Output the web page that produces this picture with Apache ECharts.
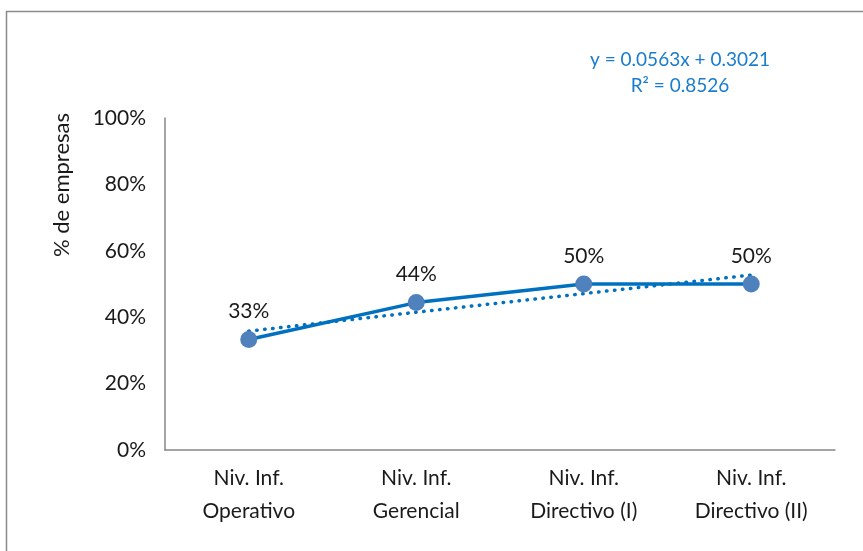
<!DOCTYPE html>
<html>
<head>
<meta charset="utf-8">
<script src="https://cdn.jsdelivr.net/npm/echarts@6/dist/echarts.min.js"></script>
<style>
  html, body { margin: 0; padding: 0; background: #fff; }
  #chart { width: 863px; height: 551px; }
</style>
</head>
<body>
<div id="chart"></div>
<script>
// categories and values
var categorias = ['Niv. Inf.\nOperativo', 'Niv. Inf.\nGerencial', 'Niv. Inf.\nDirectivo (I)', 'Niv. Inf.\nDirectivo (II)']
var porcentaje = [0.333, 0.444, 0.50, 0.50]
var tendencia = [0.358, 0.415, 0.471, 0.527]
var ecuacion = ['y = 0.0563x + 0.3021', 'R² = 0.8526']

var fuente = 'Lato, "Open Sans", sans-serif'
var chart = echarts.init(document.getElementById('chart'))

chart.setOption({
  backgroundColor: '#FFFFFF',
  animation: false,
  grid: { left: 165, right: 28, top: 118, bottom: 101 },
  xAxis: {
    type: 'category',
    data: categorias,
    boundaryGap: true,
    axisLine: { lineStyle: { color: '#868686', width: 1.5 } },
    axisTick: { show: false },
    axisLabel: {
      color: '#1a1a1a',
      fontSize: 21,
      fontFamily: fuente,
      lineHeight: 33,
      margin: 12,
      interval: 0
    }
  },
  yAxis: {
    type: 'value',
    min: 0,
    max: 1,
    interval: 0.2,
    axisLine: { show: true, lineStyle: { color: '#868686', width: 1.5 } },
    axisTick: { show: false },
    splitLine: { show: false },
    axisLabel: {
      color: '#1a1a1a',
      fontSize: 21,
      fontFamily: fuente,
      margin: 19,
      formatter: function (v) { return Math.round(v * 100) + '%' }
    }
  },
  graphic: [
    {
      type: 'rect',
      left: 4, top: 9,
      shape: { width: 880, height: 560 },
      style: { fill: 'none', stroke: '#8a8a8a', lineWidth: 1.5 },
      silent: true
    },
    {
      type: 'text',
      x: 62, y: 185,
      rotation: Math.PI / 2,
      style: {
        text: '% de empresas',
        fill: '#1a1a1a',
        font: '22px ' + fuente,
        align: 'center',
        verticalAlign: 'middle'
      }
    },
    {
      type: 'text',
      x: 680, y: 60,
      style: {
        text: ecuacion[0],
        fill: '#1a7ccc',
        font: '19px ' + fuente,
        align: 'center',
        verticalAlign: 'middle'
      }
    },
    {
      type: 'text',
      x: 680, y: 86,
      style: {
        text: ecuacion[1],
        fill: '#1a7ccc',
        font: '19px ' + fuente,
        align: 'center',
        verticalAlign: 'middle'
      }
    }
  ],
  series: [
    {
      name: 'tendencia',
      type: 'line',
      data: tendencia,
      symbol: 'none',
      silent: true,
      lineStyle: { color: '#0070C0', width: 3.5, type: [0.5, 7.5], cap: 'round' },
      z: 2
    },
    {
      name: 'porcentaje',
      type: 'line',
      data: porcentaje,
      symbol: 'circle',
      symbolSize: 17,
      itemStyle: { color: '#4F81BD' },
      lineStyle: { color: '#0070C0', width: 3.5 },
      label: {
        show: true,
        position: 'top',
        distance: 9,
        color: '#1a1a1a',
        fontSize: 21,
        fontFamily: fuente,
        formatter: function (p) { return Math.round(p.value * 100) + '%' }
      },
      z: 3
    }
  ]
})
</script>
</body>
</html>
